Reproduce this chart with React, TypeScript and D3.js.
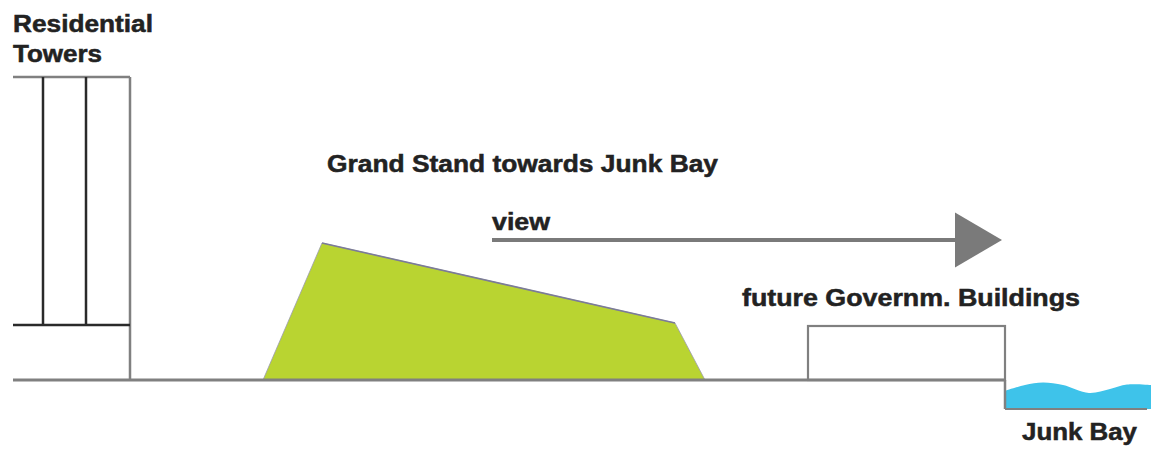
import React from "react";
import * as d3 from "d3";

// Schematic section: x = distance units, y = height above ground (units)
const towerX = [1.3, 4.3, 8.6, 13.0]; // left edge, two dividers, right edge
const towerHeights = [30.3, 5.5]; // roof, podium
const groundExtent = [1.3, 100.5];
const grandStand: [number, number][] = [
  [26.3, 0],
  [32.2, 13.7],
  [67.5, 5.7],
  [70.5, 0],
];
const viewArrow = { x0: 49.2, headStart: 95.5, tip: 100.2, h: 14.0, half: 2.75 };
const govBuilding = { x0: 80.8, x1: 100.5, h: 5.4 };
const waterSurface: [number, number][] = [
  [100.5, -1.1],
  [102.5, -0.5],
  [104.3, -0.25],
  [106.3, -0.5],
  [108.9, -1.3],
  [111.0, -0.9],
  [112.7, -0.45],
  [115.1, -0.5],
];
const waterBottom = -2.9;
const labels = [
  { text: "Residential", x: 1.3, y: 34.85, w: 14.0 },
  { text: "Towers", x: 1.3, y: 31.8, w: 8.9 },
  { text: "Grand Stand towards Junk Bay", x: 32.7, y: 20.85, w: 39.1 },
  { text: "view", x: 49.2, y: 15.0, w: 5.8 },
  { text: "future Governm. Buildings", x: 74.2, y: 7.4, w: 33.8 },
  { text: "Junk Bay", x: 102.2, y: -6.0, w: 11.5 },
];

const W = 1151;
const H = 452;
const x = d3.scaleLinear().domain([0, 115.1]).range([0, W]);
const y = d3.scaleLinear().domain([0, 30.3]).range([380, 77]);

const GRAY = "#808080";
const DARK = "#2a2a2a";

export default function App() {
  const line = d3
    .line<[number, number]>()
    .x((d) => x(d[0]))
    .y((d) => y(d[1]));
  const standPath = line(grandStand) || "";
  const standTop = line(grandStand.slice(1, 3)) || "";
  const waterTop =
    d3
      .area<[number, number]>()
      .x((d) => x(d[0]))
      .y0(y(waterBottom))
      .y1((d) => y(d[1]))
      .curve(d3.curveCatmullRom)(waterSurface) || "";

  const [tl, d1, d2, tr] = towerX;
  const [roof, podium] = towerHeights;

  return (
    <svg
      width={W}
      height={H}
      style={{ position: "absolute", left: 0, top: 0, background: "#fff" }}
      fontFamily="'Liberation Sans', Arial, sans-serif"
    >
      <rect width={W} height={H} fill="#fff" />
      {/* residential towers */}
      <line x1={x(tl)} x2={x(tr)} y1={y(roof)} y2={y(roof)} stroke={GRAY} strokeWidth={2.5} />
      <line x1={x(tr)} x2={x(tr)} y1={y(roof)} y2={y(0)} stroke={GRAY} strokeWidth={2.5} />
      <line x1={x(d1)} x2={x(d1)} y1={y(roof)} y2={y(podium)} stroke={DARK} strokeWidth={2.5} />
      <line x1={x(d2)} x2={x(d2)} y1={y(roof)} y2={y(podium)} stroke={DARK} strokeWidth={2.5} />
      <line x1={x(tl)} x2={x(tr)} y1={y(podium)} y2={y(podium)} stroke={DARK} strokeWidth={2.5} />

      {/* grand stand */}
      <path d={standPath} fill="#b9d431" stroke="#9a9ab0" strokeWidth={0.8} />
      <path d={standTop} fill="none" stroke="#7c7c96" strokeWidth={1.6} />

      {/* water */}
      <path d={waterTop} fill="#3ec3ea" />
      <line x1={x(groundExtent[1])} x2={x(114.7)} y1={y(waterBottom)} y2={y(waterBottom)} stroke={GRAY} strokeWidth={2} />
      <line x1={x(groundExtent[1])} x2={x(groundExtent[1])} y1={y(0)} y2={y(waterBottom)} stroke={GRAY} strokeWidth={2.5} />

      {/* government building */}
      <rect
        x={x(govBuilding.x0)}
        y={y(govBuilding.h)}
        width={x(govBuilding.x1) - x(govBuilding.x0)}
        height={y(0) - y(govBuilding.h)}
        fill="#fff"
        stroke={GRAY}
        strokeWidth={2.2}
      />

      {/* ground */}
      <line x1={x(groundExtent[0])} x2={x(groundExtent[1])} y1={y(0)} y2={y(0)} stroke={GRAY} strokeWidth={2.8} />

      {/* view arrow */}
      <line
        x1={x(viewArrow.x0)}
        x2={x(viewArrow.headStart)}
        y1={y(viewArrow.h)}
        y2={y(viewArrow.h)}
        stroke="#7a7a7a"
        strokeWidth={4}
      />
      <polygon
        points={[
          [x(viewArrow.headStart), y(viewArrow.h + viewArrow.half)],
          [x(viewArrow.tip), y(viewArrow.h)],
          [x(viewArrow.headStart), y(viewArrow.h - viewArrow.half)],
        ]
          .map((p) => p.join(","))
          .join(" ")}
        fill="#7a7a7a"
      />

      {/* labels */}
      {labels.map((l) => (
        <text
          key={l.text}
          x={x(l.x)}
          y={y(l.y)}
          fontSize={23}
          fontWeight="bold"
          fill="#222"
          stroke="#222"
          strokeWidth={0.5}
          textLength={x(l.w) - x(0)}
          lengthAdjust="spacingAndGlyphs"
        >
          {l.text}
        </text>
      ))}
    </svg>
  );
}
